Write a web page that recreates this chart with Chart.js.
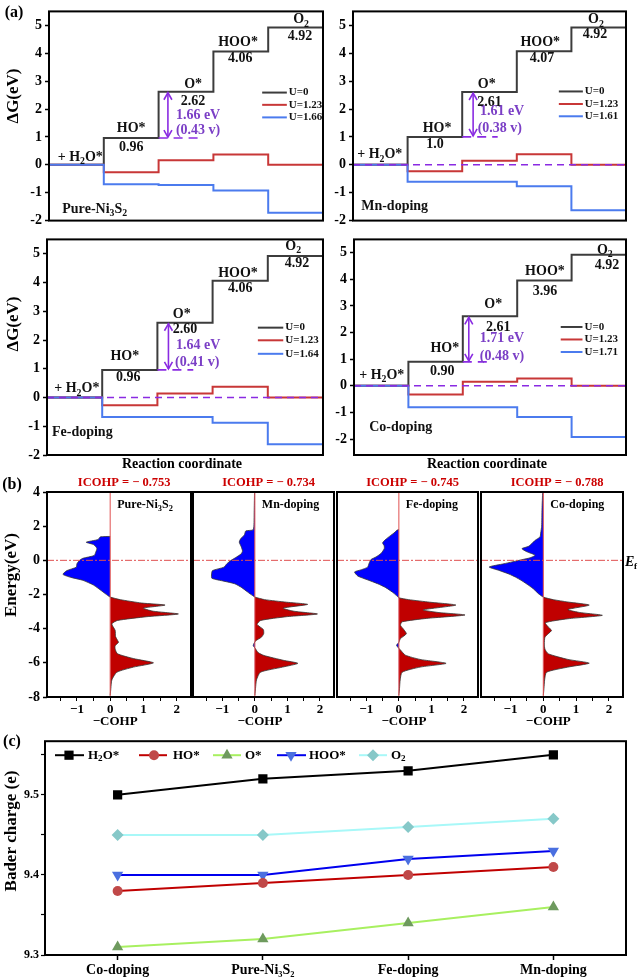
<!DOCTYPE html>
<html>
<head>
<meta charset="utf-8">
<script src="https://cdn.jsdelivr.net/npm/chart.js@4.4.1/dist/chart.umd.min.js"></script>
<style>
  html, body { margin: 0; padding: 0; background: #fff; }
  #wrap { position: relative; width: 638px; height: 979px; overflow: hidden; }
  canvas { position: absolute; }
</style>
</head>
<body>
<div id="wrap"></div>
<script>
// ---------- (a) free energy steps, one value per intermediate ----------
const pureU0 = [0, 0.96, 2.62, 4.06, 4.92];
const pureU123 = [0, -0.27, 0.16, 0.37, 0];
const pureUeq = [0, -0.70, -0.72, -0.92, -1.72];

const mnU0 = [0, 1.0, 2.61, 4.07, 4.92];
const mnU123 = [0, -0.23, 0.15, 0.38, 0];
const mnUeq = [0, -0.61, -0.61, -0.77, -1.63];

const feU0 = [0, 0.96, 2.60, 4.06, 4.92];
const feU123 = [0, -0.27, 0.14, 0.37, 0];
const feUeq = [0, -0.68, -0.68, -0.88, -1.63];

const coU0 = [0, 0.90, 2.61, 3.96, 4.92];
const coU123 = [0, -0.33, 0.15, 0.27, 0];
const coUeq = [0, -0.81, -0.81, -1.17, -1.92];

const gTicks = [-2, -1, 0, 1, 2, 3, 4, 5];

// ---------- (b) COHP curves: [energy, -COHP] ----------
const pureCohp = [[1.40,0],[1.37,-0.30],[1.22,-0.36],[1.06,-0.72],[0.92,-0.50],[0.70,-0.40],[0.45,-0.44],[0.28,-0.48],[0.12,-0.82],[0.00,-0.92],[-0.20,-1.00],[-0.40,-1.02],[-0.60,-1.30],[-0.82,-1.42],[-1.00,-1.18],[-1.17,-0.82],[-1.45,-0.50],[-1.80,-0.25],[-2.05,-0.08],[-2.15,0],[-2.30,0.30],[-2.50,0.95],[-2.62,1.65],[-2.80,1.00],[-2.98,1.30],[-3.14,2.05],[-3.30,1.10],[-3.52,0.22],[-3.72,0.05],[-4.10,0.15],[-4.45,0.16],[-4.68,0.22],[-4.80,0.25],[-5.00,0.15],[-5.20,0.15],[-5.47,0.22],[-5.75,0.70],[-6.00,1.30],[-6.25,0.70],[-6.55,0.20],[-7.00,0.05],[-7.50,0.02],[-7.90,0]];
const mnCohp = [[4.00,-0.01],[3.00,-0.02],[2.00,-0.03],[1.78,-0.06],[1.72,-0.28],[1.50,-0.32],[1.25,-0.44],[1.07,-0.48],[0.80,-0.42],[0.55,-0.38],[0.38,-0.42],[0.15,-0.60],[0.00,-0.73],[-0.20,-0.86],[-0.40,-0.95],[-0.60,-1.30],[-0.80,-1.33],[-1.05,-1.32],[-1.22,-0.95],[-1.37,-0.62],[-1.60,-0.40],[-1.86,-0.22],[-2.05,-0.08],[-2.15,0],[-2.30,0.30],[-2.45,0.97],[-2.58,1.62],[-2.80,0.87],[-2.98,1.20],[-3.14,1.92],[-3.30,0.97],[-3.52,0.18],[-3.75,0.07],[-4.05,0.26],[-4.30,0.27],[-4.50,0.20],[-4.72,0.02],[-4.98,-0.05],[-5.18,0.02],[-5.40,0.10],[-5.57,0.28],[-5.85,0.87],[-6.03,1.32],[-6.25,0.85],[-6.55,0.17],[-7.00,0.05],[-7.50,0.02],[-7.90,0]];
const feCohp = [[1.80,0],[1.76,-0.06],[1.60,-0.15],[1.46,-0.25],[1.20,-0.42],[1.02,-0.50],[0.85,-0.45],[0.68,-0.45],[0.40,-0.55],[0.20,-0.70],[0.04,-0.86],[-0.20,-0.92],[-0.40,-0.96],[-0.55,-1.15],[-0.68,-1.36],[-0.92,-1.26],[-1.15,-0.95],[-1.37,-0.65],[-1.60,-0.40],[-1.86,-0.20],[-2.05,-0.08],[-2.19,0],[-2.30,0.30],[-2.45,0.95],[-2.62,1.75],[-2.90,0.75],[-3.05,1.20],[-3.20,2.03],[-3.40,0.85],[-3.60,0.10],[-3.80,0.05],[-4.05,0.15],[-4.30,0.23],[-4.58,0.05],[-4.80,0.00],[-4.98,-0.07],[-5.25,0.05],[-5.55,0.20],[-5.80,0.65],[-6.03,1.45],[-6.25,0.65],[-6.55,0.10],[-7.00,0.04],[-7.50,0.02],[-7.90,0]];
const coCohp = [[4.00,-0.02],[3.00,-0.04],[2.00,-0.05],[1.60,-0.08],[1.37,-0.10],[1.17,-0.25],[0.98,-0.35],[0.82,-0.45],[0.68,-0.65],[0.50,-0.50],[0.30,-0.25],[0.15,-0.40],[0.04,-0.65],[-0.20,-1.20],[-0.39,-1.65],[-0.59,-1.35],[-0.80,-1.05],[-0.98,-0.85],[-1.20,-0.65],[-1.46,-0.45],[-1.70,-0.28],[-1.95,-0.15],[-2.15,0],[-2.30,0.30],[-2.44,0.75],[-2.62,1.40],[-2.88,0.75],[-3.05,1.10],[-3.22,1.80],[-3.42,0.75],[-3.65,0.06],[-3.90,0.15],[-4.10,0.25],[-4.30,0.15],[-4.50,0.05],[-4.90,0.03],[-5.20,0.05],[-5.47,0.15],[-5.80,0.75],[-6.02,1.40],[-6.25,0.75],[-6.55,0.10],[-7.00,0.04],[-7.50,0.02],[-7.90,0]];
const icohp = ['-0.753', '-0.734', '-0.745', '-0.788'];
const cohpTicks = [-1.5, -1, -0.5, 0, 0.5, 1, 1.5, 2];
const energyTicks = [-8, -6, -4, -2, 0, 2, 4];

// ---------- (c) Bader charge ----------
const dopants = ['Co-doping', 'Pure-Ni\u2083S\u2082', 'Fe-doping', 'Mn-doping'];
const baderH2O = [9.50, 9.52, 9.53, 9.55];
const baderHO = [9.38, 9.39, 9.40, 9.41];
const baderO = [9.31, 9.32, 9.34, 9.36];
const baderHOO = [9.40, 9.40, 9.42, 9.43];
const baderO2 = [9.45, 9.45, 9.46, 9.47];
const baderTicks = [9.3, 9.35, 9.4, 9.45, 9.5, 9.55];

// ---------- shared style ----------
const SERIF = '"Liberation Serif", "Times New Roman", serif';
const GREY = '#3c3c3c', RED = '#c83737', BLUE = '#4b7bee';
const PURPLE = '#8a2be2', PTEXT = '#7b3fc6';
Chart.defaults.font.family = SERIF;
Chart.defaults.font.weight = 'bold';
Chart.defaults.color = '#000';

function makeCanvas(l, t, w, h) {
  const c = document.createElement('canvas');
  c.width = w; c.height = h;
  c.style.left = l + 'px'; c.style.top = t + 'px';
  c.style.width = w + 'px'; c.style.height = h + 'px';
  document.getElementById('wrap').appendChild(c);
  return c;
}

// text with "_x" => subscript x
function rich(ctx, str, x, y, size, align, color, italic) {
  const parts = [];
  for (let i = 0; i < str.length; i++) {
    if (str[i] === '_') { parts.push({t: str[i + 1], sub: true}); i++; }
    else parts.push({t: str[i], sub: false});
  }
  const font = (s) => (italic ? 'italic ' : '') + 'bold ' + s + 'px ' + SERIF;
  let w = 0;
  parts.forEach(p => { ctx.font = font(p.sub ? size * 0.7 : size); p.w = ctx.measureText(p.t).width; w += p.w; });
  let cx = align === 'center' ? x - w / 2 : align === 'right' ? x - w : x;
  ctx.fillStyle = color;
  ctx.textBaseline = 'middle';
  ctx.textAlign = 'left';
  parts.forEach(p => {
    ctx.font = font(p.sub ? size * 0.7 : size);
    ctx.fillText(p.t, cx, p.sub ? y + size * 0.3 : y);
    cx += p.w;
  });
}

function vText(ctx, str, x, y, size) {
  ctx.save();
  ctx.translate(x, y);
  ctx.rotate(-Math.PI / 2);
  rich(ctx, str, 0, 0, size, 'center', '#000');
  ctx.restore();
}

function seg(ctx, x0, y0, x1, y1) {
  ctx.beginPath(); ctx.moveTo(x0, y0); ctx.lineTo(x1, y1); ctx.stroke();
}

function frame(ctx, a) {
  ctx.setLineDash([]);
  ctx.strokeStyle = '#000';
  ctx.lineWidth = 2;
  ctx.strokeRect(a.left, a.top, a.right - a.left, a.bottom - a.top);
}

// ---------- (a) panels ----------
const panelsA = [
  {box: [0, 0, 330, 232], pad: {l: 49, t: 3, r: 7, b: 9}, ymin: -2,
   u0: pureU0, u1: pureU123, u2: pureUeq, uLab: 'U=1.66',
   labels: [['+ H_2O*', 0.57, 0.28], ['HO*', 1.5, 1.29], ['0.96', 1.5, 0.64], ['O*', 2.63, 2.87], ['2.62', 2.63, 2.29],
            ['HOO*', 3.45, 4.38], ['4.06', 3.49, 3.80], ['O_2', 4.6, 5.2], ['4.92', 4.58, 4.59]],
   purple: [['1.66 eV', 2.72, 1.77], ['(0.43 v)', 2.72, 1.25]],
   arrow: [2.17, 0.96, 2.62], dash: [0.96, 2.0, 2.75], longDash: false,
   leg: [3.89, 4.34, [2.59, 2.15, 1.70]], name: ['Pure-Ni_3S_2', 0.24, -1.6],
   ytitle: 96, tag: true, xtitle: false},
  {box: [330, 0, 308, 232], pad: {l: 23, t: 3, r: 12, b: 9}, ymin: -2,
   u0: mnU0, u1: mnU123, u2: mnUeq, uLab: 'U=1.61',
   labels: [['+ H_2O*', 0.49, 0.36], ['HO*', 1.54, 1.29], ['1.0', 1.5, 0.74], ['O*', 2.45, 2.9], ['2.61', 2.5, 2.25],
            ['HOO*', 3.43, 4.38], ['4.07', 3.46, 3.8], ['O_2', 4.45, 5.2], ['4.92', 4.43, 4.66]],
   purple: [['1.61 eV', 2.73, 1.9], ['(0.38 v)', 2.69, 1.29]],
   arrow: [2.2, 1.0, 2.61], dash: [1.0, 2.0, 2.65], longDash: true,
   leg: [3.77, 4.21, [2.63, 2.18, 1.74]], name: ['Mn-doping', 0.15, -1.5],
   ytitle: 0, tag: false, xtitle: false},
  {box: [0, 228, 330, 245], pad: {l: 47, t: 4, r: 7, b: 18}, ymin: -2,
   u0: feU0, u1: feU123, u2: feUeq, uLab: 'U=1.64',
   labels: [['+ H_2O*', 0.54, 0.3], ['HO*', 1.41, 1.42], ['0.96', 1.47, 0.71], ['O*', 2.44, 2.9], ['2.60', 2.5, 2.36],
            ['HOO*', 3.46, 4.32], ['4.06', 3.5, 3.78], ['O_2', 4.46, 5.27], ['4.92', 4.53, 4.66]],
   purple: [['1.64 eV', 2.74, 1.82], ['(0.41 v)', 2.72, 1.22]],
   arrow: [2.2, 0.96, 2.60], dash: [0.96, 2.0, 2.65], longDash: true,
   leg: [3.82, 4.28, [2.43, 1.99, 1.52]], name: ['Fe-doping', 0.09, -1.22],
   ytitle: 96, tag: false, xtitle: true},
  {box: [330, 228, 308, 245], pad: {l: 24, t: 4, r: 12, b: 18}, ymin: -2.6,
   u0: coU0, u1: coU123, u2: coUeq, uLab: 'U=1.71',
   labels: [['+ H_2O*', 0.51, 0.4], ['HO*', 1.67, 1.41], ['0.90', 1.62, 0.54], ['O*', 2.56, 3.04], ['2.61', 2.65, 2.21],
            ['HOO*', 3.51, 4.28], ['3.96', 3.51, 3.55], ['O_2', 4.61, 5.1], ['4.92', 4.65, 4.53]],
   purple: [['1.71 eV', 2.72, 1.78], ['(0.48 v)', 2.72, 1.12]],
   arrow: [2.11, 0.90, 2.61], dash: [0.90, 2.0, 2.55], longDash: true,
   leg: [3.8, 4.2, [2.21, 1.74, 1.27]], name: ['Co-doping', 0.28, -1.56],
   ytitle: 0, tag: false, xtitle: true}
];

function stepPoints(vals) {
  const pts = vals.map((v, i) => ({x: i, y: v}));
  pts.push({x: vals.length, y: vals[vals.length - 1]});
  return pts;
}

function stepDecor(p) {
  return {
    id: 'stepDecor',
    afterDraw(chart) {
      const {ctx, chartArea: a} = chart;
      const X = v => chart.scales.x.getPixelForValue(v);
      const Y = v => chart.scales.y.getPixelForValue(v);
      ctx.save();
      ctx.strokeStyle = PURPLE;
      ctx.lineWidth = 1.6;
      if (p.longDash) { ctx.setLineDash([7, 5]); seg(ctx, a.left, Y(0), a.right, Y(0)); }
      ctx.setLineDash([9, 6]);
      seg(ctx, X(p.dash[1]), Y(p.dash[0]), X(p.dash[2]), Y(p.dash[0]));
      ctx.setLineDash([]);
      const ax = X(p.arrow[0]), yb = Y(p.arrow[1]) - 1, yt = Y(p.arrow[2]) + 1;
      seg(ctx, ax, yb, ax, yt);
      ctx.beginPath();
      ctx.moveTo(ax - 4, yt + 7); ctx.lineTo(ax, yt); ctx.lineTo(ax + 4, yt + 7);
      ctx.moveTo(ax - 4, yb - 7); ctx.lineTo(ax, yb); ctx.lineTo(ax + 4, yb - 7);
      ctx.stroke();

      p.labels.forEach(([t, x, y]) => rich(ctx, t, X(x), Y(y), 14, 'center', '#111'));
      p.purple.forEach(([t, x, y]) => rich(ctx, t, X(x), Y(y), 14, 'center', PTEXT));

      const legLabels = ['U=0', 'U=1.23', p.uLab];
      [GREY, RED, BLUE].forEach((c, i) => {
        const yy = Y(p.leg[2][i]);
        ctx.strokeStyle = c; ctx.lineWidth = 2;
        seg(ctx, X(p.leg[0]), yy, X(p.leg[1]), yy);
        rich(ctx, legLabels[i], X(p.leg[1]) + 2, yy, 11, 'left', '#111');
      });
      rich(ctx, p.name[0], X(p.name[1]), Y(p.name[2]), 14, 'left', '#111');

      frame(ctx, a);
      if (p.ytitle) vText(ctx, '\u0394G(eV)', 14, p.ytitle, 17);
      if (p.xtitle) rich(ctx, 'Reaction coordinate', (a.left + a.right) / 2 - 3, a.bottom + 9, 14, 'center', '#000');
      if (p.tag) rich(ctx, '(a)', 14, 13, 16, 'center', '#000');
      ctx.restore();
    }
  };
}

panelsA.forEach(p => {
  const cv = makeCanvas(p.box[0], p.box[1], p.box[2], p.box[3]);
  new Chart(cv, {
    type: 'line',
    data: {
      datasets: [
        {data: stepPoints(p.u2), borderColor: BLUE},
        {data: stepPoints(p.u1), borderColor: RED},
        {data: stepPoints(p.u0), borderColor: GREY}
      ]
    },
    options: {
      responsive: false, animation: false, devicePixelRatio: 1,
      layout: {padding: {top: p.pad.t, right: p.pad.r, bottom: p.pad.b, left: 0}},
      plugins: {legend: {display: false}, tooltip: {enabled: false}},
      elements: {point: {radius: 0}, line: {borderWidth: 2, stepped: true, tension: 0}},
      scales: {
        x: {type: 'linear', min: 0, max: 5, display: false},
        y: {
          min: p.ymin, max: 5.5,
          afterFit: s => { s.width = p.pad.l; },
          afterBuildTicks: s => { s.ticks = gTicks.map(v => ({value: v})); },
          ticks: {font: {size: 14, weight: 'bold'}, color: '#000', padding: 3, autoSkip: false},
          grid: {drawOnChartArea: false, tickLength: 4, tickColor: '#000', tickWidth: 1.5},
          border: {display: false}
        }
      }
    },
    plugins: [stepDecor(p)]
  });
});

// ---------- (b) panels ----------
const panelsB = [
  {box: [0, 470, 192, 262], l: 47, r: 1, data: pureCohp, name: 'Pure-Ni_3S_2', first: true, last: false},
  {box: [189, 470, 147, 262], l: 2, r: 2, data: mnCohp, name: 'Mn-doping', first: false, last: false},
  {box: [333, 470, 147, 262], l: 2, r: 2, data: feCohp, name: 'Fe-doping', first: false, last: false},
  {box: [477, 470, 161, 262], l: 2, r: 15, data: coCohp, name: 'Co-doping', first: false, last: true}
];

function cohpDecor(p, idx) {
  return {
    id: 'cohpDecor',
    beforeDatasetsDraw(chart) {
      const {ctx, chartArea: a} = chart;
      const meta = chart.getDatasetMeta(0);
      const line = meta.dataset;
      const pts = meta.data;
      const x0 = chart.scales.x.getPixelForValue(0);
      if (line.updateControlPoints) line.updateControlPoints(a, 'x');
      const shape = () => {
        ctx.beginPath();
        if (typeof line.path === 'function') line.path(ctx);
        else pts.forEach((pt, i) => i ? ctx.lineTo(pt.x, pt.y) : ctx.moveTo(pt.x, pt.y));
        ctx.lineTo(x0, pts[pts.length - 1].y);
        ctx.lineTo(x0, pts[0].y);
        ctx.closePath();
      };
      [[a.left, x0, '#0000ff'], [x0, a.right, '#c00000']].forEach(([l, r, c]) => {
        ctx.save();
        ctx.beginPath(); ctx.rect(l, a.top, r - l, a.bottom - a.top); ctx.clip();
        shape();
        ctx.fillStyle = c; ctx.fill();
        ctx.restore();
      });
    },
    afterDraw(chart) {
      const {ctx, chartArea: a} = chart;
      const X = v => chart.scales.x.getPixelForValue(v);
      const Y = v => chart.scales.y.getPixelForValue(v);
      ctx.save();
      ctx.strokeStyle = '#e05050'; ctx.lineWidth = 1;
      seg(ctx, X(0), a.top, X(0), a.bottom);
      ctx.setLineDash([7, 2, 2, 2]);
      seg(ctx, a.left, Y(0), a.right, Y(0));
      ctx.setLineDash([]);
      frame(ctx, a);
      const v = icohp[idx].replace('-', '\u2212 ');
      rich(ctx, 'ICOHP = ' + v, X(0.42), 13, 12.5, 'center', '#cc0000');
      rich(ctx, p.name, X(0) + 7, a.top + 13, 12, 'left', '#000');
      rich(ctx, '\u2212COHP', X(0) + 5, a.bottom + 25, 13, 'center', '#000');
      if (p.first) {
        vText(ctx, 'Energy(eV)', 12, 105, 17);
        rich(ctx, '(b)', 12, 15, 16, 'center', '#000');
      }
      if (p.last) {
        rich(ctx, 'E', a.right + 2, Y(0) + 2, 14, 'left', '#000', true);
        rich(ctx, 'f', a.right + 11, Y(0) + 6, 9, 'left', '#000');
      }
      ctx.restore();
    }
  };
}

panelsB.forEach((p, idx) => {
  const cv = makeCanvas(p.box[0], p.box[1], p.box[2], p.box[3]);
  new Chart(cv, {
    type: 'scatter',
    data: {
      datasets: [{
        data: p.data.map(([e, c]) => ({x: c, y: e})),
        showLine: true, borderColor: '#333', borderWidth: 0.8,
        pointRadius: 0, tension: 0.2
      }]
    },
    options: {
      responsive: false, animation: false, devicePixelRatio: 1,
      layout: {padding: {top: 22, right: p.r, bottom: 0, left: p.first ? 0 : p.l}},
      plugins: {legend: {display: false}, tooltip: {enabled: false}},
      scales: {
        x: {
          type: 'linear', min: -1.9, max: 2.43,
          afterFit: s => { s.height = 35; },
          afterBuildTicks: s => { s.ticks = cohpTicks.map(v => ({value: v})); },
          ticks: {
            font: {size: 13, weight: 'bold'}, color: '#000', padding: 1, autoSkip: false, maxRotation: 0,
            callback: v => Number.isInteger(v) ? (v < 0 ? '\u2212' + Math.abs(v) : String(v)) : ''
          },
          grid: {drawOnChartArea: false, tickLength: 4, tickColor: '#000', tickWidth: 1},
          border: {display: false}
        },
        y: {
          type: 'linear', min: -8, max: 4, display: p.first,
          afterFit: s => { s.width = p.l; },
          afterBuildTicks: s => { s.ticks = energyTicks.map(v => ({value: v})); },
          ticks: {font: {size: 14, weight: 'bold'}, color: '#000', padding: 3, autoSkip: false},
          grid: {drawOnChartArea: false, tickLength: 4, tickColor: '#000', tickWidth: 1.5},
          border: {display: false}
        }
      }
    },
    plugins: [cohpDecor(p, idx)]
  });
});

// ---------- (c) Bader charge ----------
const baderSeries = [
  {label: 'H_2O*', data: baderH2O, line: '#000000', fill: '#000000', style: 'rect', r: 6.5, rot: 0},
  {label: 'HO*', data: baderHO, line: '#c00000', fill: '#c04848', style: 'circle', r: 5, rot: 0},
  {label: 'O*', data: baderO, line: '#a8f060', fill: '#6e9a5e', style: 'triangle', r: 6.5, rot: 0},
  {label: 'HOO*', data: baderHOO, line: '#0000ee', fill: '#4a6fe0', style: 'triangle', r: 6.5, rot: 180},
  {label: 'O_2', data: baderO2, line: '#a8f8f8', fill: '#86c8c8', style: 'rectRot', r: 6, rot: 0}
];
const legendC = [[55, 84, 69, 88], [139, 167, 154, 173], [213, 241, 227, 245], [277, 306, 291, 309], [359, 387, 373, 391]];

function drawMarker(ctx, s, x, y) {
  ctx.fillStyle = s.fill;
  ctx.beginPath();
  if (s.style === 'rect') {
    const h = s.r * Math.SQRT1_2;
    ctx.rect(x - h, y - h, 2 * h, 2 * h);
  } else if (s.style === 'circle') {
    ctx.arc(x, y, s.r, 0, Math.PI * 2);
  } else if (s.style === 'triangle') {
    const d = s.rot ? -1 : 1;
    ctx.moveTo(x, y - d * s.r);
    ctx.lineTo(x + s.r * 0.866, y + d * s.r * 0.5);
    ctx.lineTo(x - s.r * 0.866, y + d * s.r * 0.5);
    ctx.closePath();
  } else {
    ctx.moveTo(x, y - s.r); ctx.lineTo(x + s.r, y); ctx.lineTo(x, y + s.r); ctx.lineTo(x - s.r, y);
    ctx.closePath();
  }
  ctx.fill();
}

const baderDecor = {
  id: 'baderDecor',
  afterDraw(chart) {
    const {ctx, chartArea: a} = chart;
    ctx.save();
    frame(ctx, a);
    baderSeries.forEach((s, i) => {
      const [x0, x1, xm, xt] = legendC[i];
      const y = a.top + 14;
      ctx.strokeStyle = s.line; ctx.lineWidth = 2;
      seg(ctx, x0, y, x1, y);
      drawMarker(ctx, s, xm, y);
      rich(ctx, s.label, xt, y, 13, 'left', '#000');
    });
    vText(ctx, 'Bader charge (e)', 12, 99, 17);
    rich(ctx, '(c)', 12, 10, 16, 'center', '#000');
    ctx.restore();
  }
};

new Chart(makeCanvas(0, 732, 638, 247), {
  type: 'line',
  data: {
    labels: dopants,
    datasets: baderSeries.map(s => ({
      data: s.data, borderColor: s.line, borderWidth: 2,
      pointStyle: s.style, pointRadius: s.r, pointRotation: s.rot,
      pointBackgroundColor: s.fill, pointBorderColor: s.fill, pointBorderWidth: 0
    }))
  },
  options: {
    responsive: false, animation: false, devicePixelRatio: 1,
    layout: {padding: {top: 5, right: 12, bottom: 0, left: 0}},
    plugins: {legend: {display: false}, tooltip: {enabled: false}},
    scales: {
      x: {
        offset: true,
        afterFit: s => { s.height = 24; },
        ticks: {font: {size: 14, weight: 'bold'}, color: '#000', padding: 2, maxRotation: 0, autoSkip: false},
        grid: {offset: false, drawOnChartArea: false, tickLength: 5, tickColor: '#000', tickWidth: 1.5},
        border: {display: false}
      },
      y: {
        min: 9.3, max: 9.567,
        afterFit: s => { s.width = 45; },
        afterBuildTicks: s => { s.ticks = baderTicks.map(v => ({value: v})); },
        ticks: {
          font: {size: 12, weight: 'bold'}, color: '#000', padding: 2, autoSkip: false,
          callback: v => Math.round(v * 100) % 10 === 0 ? v.toFixed(1) : ''
        },
        grid: {drawOnChartArea: false, tickLength: 4, tickColor: '#000', tickWidth: 1.2},
        border: {display: false}
      }
    }
  },
  plugins: [baderDecor]
});
</script>
</body>
</html>
